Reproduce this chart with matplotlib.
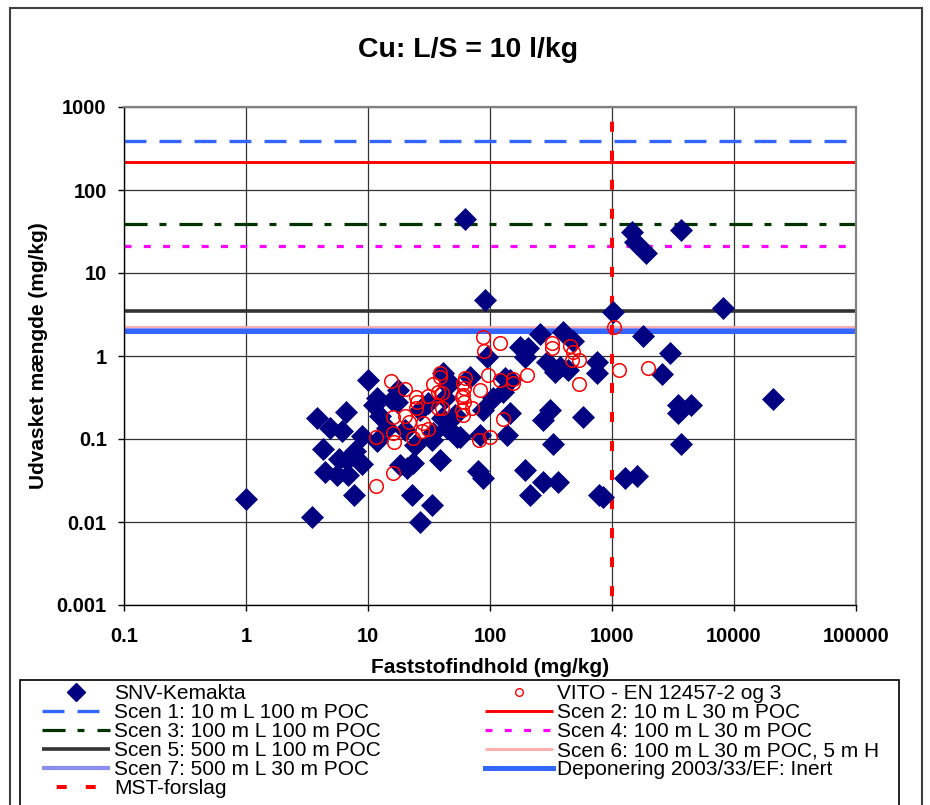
import matplotlib
matplotlib.use("Agg")
import matplotlib.pyplot as plt
from matplotlib.lines import Line2D
from matplotlib.patches import Rectangle
from matplotlib.ticker import NullLocator

plt.rcParams['font.family'] = ['Liberation Sans', 'DejaVu Sans']
plt.rcParams['lines.scale_dashes'] = False

# SNV-Kemakta: faststofindhold vs. udvasket mængde (mg/kg)
snv_x = [1.0, 3.5, 3.8, 4.3, 4.4, 4.9, 5.6, 6.1, 6.6, 6.9, 7.7, 7.8, 5.8, 8.9, 8.9,
         10, 11.9, 11.2, 12.5, 15.7, 17.3, 11.9, 18.3, 23.4, 20.9, 38.9, 22.9, 33.5,
         26.7, 47, 53.7, 40.4, 34.1, 44.4, 91, 62, 257, 396, 479, 176, 205, 194, 94.5,
         293, 341, 375, 436, 754, 754, 133, 128, 106, 87.6, 146, 310, 272, 578, 56.8,
         82.8, 138, 328, 79.7, 87.6, 194, 272, 361, 213, 782, 844, 45.3, 146, 1020,
         1460, 1540, 1900, 3680, 8130, 1800, 2990, 2570, 20900, 3480, 4440, 3480,
         3680, 1280, 1600, 31, 14.3, 68.6, 26.7, 42.8, 51.7, 20.1, 33.5, 17.6, 24.3,
         41.2, 6.7]
snv_y = [0.019, 0.0115, 0.179, 0.076, 0.040, 0.136, 0.037, 0.125, 0.211, 0.037, 0.021,
         0.072, 0.057, 0.109, 0.050, 0.51, 0.31, 0.26, 0.19, 0.295, 0.28, 0.095, 0.049,
         0.051, 0.045, 0.056, 0.021, 0.016, 0.010, 0.47, 0.106, 0.179, 0.118, 0.136,
         4.7, 44.7, 1.84, 1.95, 1.52, 1.28, 1.25, 0.97, 0.97, 0.85, 0.64, 0.74, 0.68,
         0.85, 0.62, 0.54, 0.37, 0.31, 0.224, 0.206, 0.224, 0.169, 0.184, 0.106, 0.112,
         0.112, 0.087, 0.041, 0.034, 0.042, 0.030, 0.030, 0.021, 0.021, 0.020, 0.45,
         0.51, 3.4, 31, 23.6, 17.4, 33, 3.8, 1.74, 1.09, 0.61, 0.30, 0.26, 0.26, 0.206,
         0.087, 0.034, 0.036, 0.27, 0.136, 0.56, 0.224, 0.31, 0.195, 0.128, 0.097,
         0.39, 0.085, 0.62, 0.056]

# VITO - EN 12457-2 og 3
vito_x = [15.4, 20.1, 24.7, 25.2, 24.7, 31, 34.1, 38.9, 38.9, 37.5, 37.5, 16, 20.1,
          21.7, 28.2, 31, 27.7, 23.4, 16, 16.3, 11.6, 16, 11.6, 60, 61.2, 60, 61.2,
          58.9, 60, 81.3, 87.6, 89.3, 121, 322, 322, 453, 479, 470, 537, 537, 1040,
          1140, 1970, 62.4, 58.9, 71.2, 82.8, 96.3, 121, 154, 154, 201, 40.4, 40.4,
          128, 100]
vito_y = [0.50, 0.40, 0.32, 0.28, 0.236, 0.33, 0.46, 0.62, 0.56, 0.37, 0.236, 0.184,
          0.189, 0.16, 0.156, 0.132, 0.125, 0.103, 0.118, 0.092, 0.106, 0.039, 0.027,
          0.47, 0.41, 0.34, 0.28, 0.224, 0.195, 0.097, 1.69, 1.15, 1.43, 1.43, 1.25,
          1.32, 1.12, 0.895, 0.895, 0.46, 2.24, 0.68, 0.72, 0.54, 0.32, 0.236, 0.39,
          0.59, 0.51, 0.53, 0.47, 0.59, 0.36, 0.236, 0.174, 0.106]

# Scenario limit values (mg/kg)
scen_labels = ['Scen 1: 10 m L 100 m POC', 'Scen 2: 10 m L 30 m POC',
               'Scen 3: 100 m L 100 m POC', 'Scen 4: 100 m L 30 m POC',
               'Scen 5: 500 m L 100 m POC', 'Scen 6: 100 m L 30 m POC, 5 m H',
               'Scen 7: 500 m L 30 m POC']
scen_levels = [390, 215, 39, 21, 3.5, 2.25, 2.05]
inert_label = 'Deponering 2003/33/EF: Inert'
inert_level = 2.0
mst_label = 'MST-forslag'
mst_level = 1000

x_ticks = [0.1, 1, 10, 100, 1000, 10000, 100000]
x_ticklabels = ['0.1', '1', '10', '100', '1000', '10000', '100000']
y_ticks = [0.001, 0.01, 0.1, 1, 10, 100, 1000]
y_ticklabels = ['0.001', '0.01', '0.1', '1', '10', '100', '1000']

# line styles per scenario: colour, width (pt), dash pattern (pt)
scen_styles = [
    dict(color='#3366FF', lw=2.4, dashes=(15.8, 9.4)),
    dict(color='#FF0000', lw=2.1, dashes=None),
    dict(color='#003300', lw=2.3, dashes=(16.6, 8.6, 5.0, 9.4)),
    dict(color='#FF00FF', lw=2.3, dashes=(5.0, 8.9)),
    dict(color='#333333', lw=2.6, dashes=None),
    dict(color='#FFB0B0', lw=2.2, dashes=None),
    dict(color='#8C8CF0', lw=3.0, dashes=None),
]

W, H = 930, 805
fig = plt.figure(figsize=(W / 100, H / 100), dpi=100)
ax = fig.add_axes([124 / W, 1 - 605 / H, (856 - 124) / W, (605 - 107) / H])

ax.set_xscale('log')
ax.set_yscale('log')
ax.set_xlim(0.1, 100000)
ax.set_ylim(0.001, 1000)

scen_lines = []
for level, label, st in zip(scen_levels, scen_labels, scen_styles):
    ln = ax.axhline(level, color=st['color'], lw=st['lw'], label=label,
                    solid_capstyle='butt', dash_capstyle='butt', zorder=2)
    if st['dashes']:
        ln.set_dashes(st['dashes'])
    scen_lines.append(ln)

inert_line = ax.axhline(inert_level, color='#3366FF', lw=3.6, label=inert_label, zorder=2.1)

mst_line, = ax.plot([mst_level, mst_level], [1000, 0.001], color='#FF0000', lw=2.9,
                    dash_capstyle='butt', label=mst_label, zorder=2.2)
mst_line.set_linestyle((10.3, (7.2, 13.7)))

ax.plot(snv_x, snv_y, linestyle='none', marker='D', ms=11, mfc='#000080',
        mec='#000080', mew=0.5, zorder=3)
ax.plot(vito_x, vito_y, linestyle='none', marker='o', ms=9.8, mfc='none',
        mec='#FF0000', mew=1.1, zorder=4)

ax.set_xticks(x_ticks)
ax.set_xticklabels(x_ticklabels)
ax.set_yticks(y_ticks)
ax.set_yticklabels(y_ticklabels)
ax.xaxis.set_minor_locator(NullLocator())
ax.yaxis.set_minor_locator(NullLocator())
ax.tick_params(axis='both', direction='out', length=4.5, width=1, labelsize=14.5)
ax.tick_params(axis='x', pad=11)
ax.tick_params(axis='y', pad=8)
for lab in ax.get_xticklabels() + ax.get_yticklabels():
    lab.set_fontweight('bold')

ax.grid(True, which='major', color='#333333', lw=0.9)
ax.set_axisbelow(True)
for side in ['top', 'right']:
    ax.spines[side].set_color('#808080')
    ax.spines[side].set_linewidth(1.6)
for side in ['left', 'bottom']:
    ax.spines[side].set_color('black')
    ax.spines[side].set_linewidth(1.0)

ax.set_xlabel('Faststofindhold (mg/kg)', fontsize=15, fontweight='bold', labelpad=9)
ax.set_ylabel('Udvasket mængde (mg/kg)', fontsize=15, fontweight='bold', labelpad=6)
fig.text(0.503, 1 - 50 / H, 'Cu: L/S = 10 l/kg', ha='center', va='center',
         fontsize=20.5, fontweight='bold')

# legend: two columns, entries ordered column by column
snv_handle = Line2D([], [], linestyle='none', marker='D', ms=9, mfc='#000080',
                    mec='#000080')
vito_handle = Line2D([], [], linestyle='none', marker='o', ms=5.5, mfc='none',
                     mec='#FF0000', mew=1.0)
handles = [snv_handle, scen_lines[0], scen_lines[2], scen_lines[4], scen_lines[6], mst_line,
           vito_handle, scen_lines[1], scen_lines[3], scen_lines[5], inert_line]
labels = ['SNV-Kemakta', scen_labels[0], scen_labels[2], scen_labels[4], scen_labels[6],
          mst_label, 'VITO - EN 12457-2 og 3', scen_labels[1], scen_labels[3],
          scen_labels[5], inert_label]
fig.legend(handles, labels, loc='upper left', bbox_to_anchor=(42 / W, 1 - 684 / H),
           ncol=2, frameon=False, fontsize=15, handlelength=3.27, handletextpad=0.19,
           columnspacing=5.0, labelspacing=0.0, borderpad=0, borderaxespad=0)

# chart border and legend box
fig.add_artist(Rectangle((10 / W, -0.05), 912 / W, 1 - 8 / H + 0.05, fill=False,
                         ec='#404040', lw=1.5, transform=fig.transFigure))
fig.add_artist(Rectangle((20 / W, -0.05), 879 / W, 1 - 680 / H + 0.05, fill=False,
                         ec='black', lw=1.2, transform=fig.transFigure))

fig.savefig('out.png', dpi=100)
